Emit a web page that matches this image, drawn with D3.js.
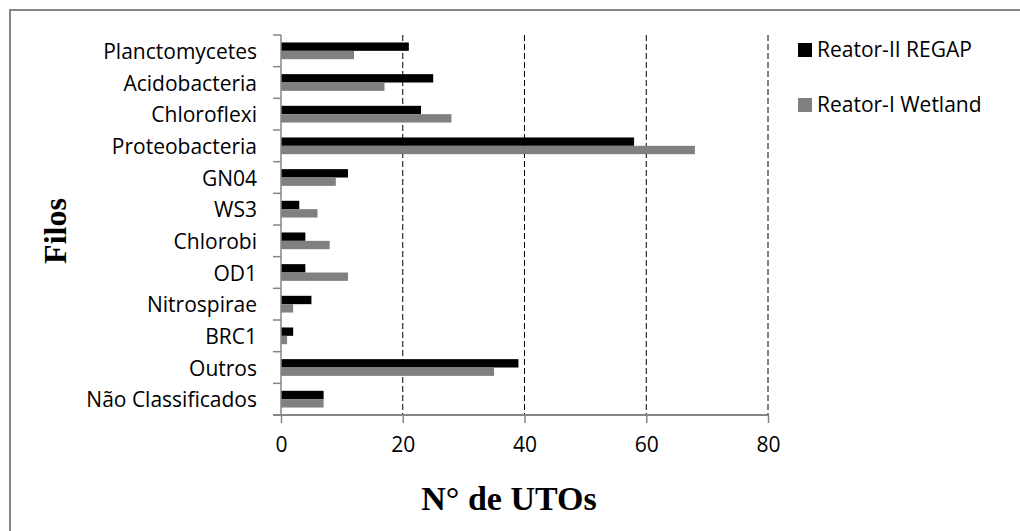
<!DOCTYPE html>
<html>
<head>
<meta charset="utf-8">
<script src="https://cdn.jsdelivr.net/npm/d3@7/dist/d3.min.js"></script>
<style>
  html, body { margin: 0; padding: 0; background: #fff; }
  svg { display: block; }
</style>
</head>
<body>
<svg id="chart" width="1020" height="531"></svg>
<script>
// Phylum names, top to bottom
const categories = [
  "Planctomycetes", "Acidobacteria", "Chloroflexi", "Proteobacteria",
  "GN04", "WS3", "Chlorobi", "OD1", "Nitrospirae", "BRC1",
  "Outros", "Não Classificados"
];
const seriesNames = ["Reator-II REGAP", "Reator-I Wetland"];
// OTU counts per phylum
const regapValues   = [21, 25, 23, 58, 11, 3, 4, 4, 5, 2, 39, 7];
const wetlandValues = [12, 17, 28, 68, 9, 6, 8, 11, 2, 1, 35, 7];
const seriesColors = ["#000000", "#808080"];
const xTicks = [0, 20, 40, 60, 80];

const svg = d3.select("#chart");
const axisColor = "#868686";
const labelFont = "'Open Sans', 'Noto Sans', sans-serif";
const titleFont = "'Liberation Serif', 'DejaVu Serif', serif";

// outer frame
svg.append("rect")
  .attr("x", 10).attr("y", 10)
  .attr("width", 1100).attr("height", 600)
  .attr("fill", "none").attr("stroke", axisColor).attr("stroke-width", 2);

const plot = { left: 281, right: 768, top: 35, bottom: 415 };

const x = d3.scaleLinear().domain([0, 80]).range([plot.left, plot.right]);
const y = d3.scaleBand().domain(categories).range([plot.top, plot.bottom]).paddingInner(0).paddingOuter(0);
const bw = y.bandwidth();
const ySub = d3.scaleBand().domain(seriesNames).range([bw * 0.236, bw * 0.764]);

// dashed vertical gridlines
svg.append("g").selectAll("line")
  .data(xTicks.filter(d => d > 0))
  .join("line")
  .attr("x1", d => x(d)).attr("x2", d => x(d))
  .attr("y1", plot.top).attr("y2", plot.bottom)
  .attr("stroke", "#000").attr("stroke-width", 1)
  .attr("stroke-dasharray", "6,3");

// bars
const rows = categories.map((c, i) => ({ cat: c, vals: [regapValues[i], wetlandValues[i]] }));
const groups = svg.append("g").selectAll("g")
  .data(rows).join("g")
  .attr("transform", d => `translate(0,${y(d.cat)})`);
groups.selectAll("rect")
  .data(d => d.vals.map((v, j) => ({ s: seriesNames[j], v, j })))
  .join("rect")
  .attr("x", x(0))
  .attr("y", d => ySub(d.s))
  .attr("width", d => x(d.v) - x(0))
  .attr("height", ySub.bandwidth())
  .attr("fill", d => seriesColors[d.j]);

// vertical (category) axis: ticks at band boundaries, labels at band centres
const yAxis = svg.append("g");
const boundaries = categories.map(c => y(c)).concat([plot.bottom]);
yAxis.append("line")
  .attr("x1", plot.left).attr("x2", plot.left)
  .attr("y1", plot.top).attr("y2", plot.bottom)
  .attr("stroke", axisColor).attr("stroke-width", 1.5);
yAxis.selectAll("line.tick")
  .data(boundaries).join("line")
  .attr("class", "tick")
  .attr("x1", plot.left - 8).attr("x2", plot.left)
  .attr("y1", d => d).attr("y2", d => d)
  .attr("stroke", axisColor).attr("stroke-width", 1.5);
yAxis.selectAll("text")
  .data(categories).join("text")
  .attr("x", plot.left - 24)
  .attr("y", d => y(d) + bw / 2 + 8)
  .attr("text-anchor", "end")
  .attr("font-family", labelFont)
  .attr("font-size", 21)
  .attr("fill", "#000")
  .text(d => d);

// horizontal (value) axis
const xAxis = svg.append("g")
  .attr("transform", `translate(0,${plot.bottom})`)
  .call(d3.axisBottom(x).tickValues(xTicks).tickSize(8).tickPadding(14).tickSizeOuter(0));
xAxis.select(".domain").attr("stroke", axisColor).attr("stroke-width", 2)
  .attr("d", `M${plot.left - 8},0H${plot.right}`);
xAxis.selectAll(".tick line").attr("stroke", axisColor).attr("stroke-width", 1.5);
xAxis.selectAll(".tick text")
  .attr("font-family", labelFont)
  .attr("font-size", 21)
  .attr("fill", "#000");

// axis titles
svg.append("text")
  .attr("x", 509).attr("y", 510)
  .attr("text-anchor", "middle")
  .attr("font-family", titleFont)
  .attr("font-weight", "bold")
  .attr("font-size", 34)
  .attr("fill", "#000")
  .text("N° de UTOs");

svg.append("text")
  .attr("transform", "translate(66,231) rotate(-90)")
  .attr("text-anchor", "middle")
  .attr("font-family", titleFont)
  .attr("font-weight", "bold")
  .attr("font-size", 32)
  .attr("fill", "#000")
  .text("Filos");

// legend
const legend = svg.append("g").selectAll("g")
  .data(seriesNames).join("g")
  .attr("transform", (d, i) => `translate(798,${43 + i * 55})`);
legend.append("rect")
  .attr("width", 14).attr("height", 14)
  .attr("fill", (d, i) => seriesColors[i]);
legend.append("text")
  .attr("x", 19).attr("y", 14)
  .attr("font-family", labelFont)
  .attr("font-size", 21)
  .attr("fill", "#000")
  .text(d => d);
</script>
</body>
</html>
